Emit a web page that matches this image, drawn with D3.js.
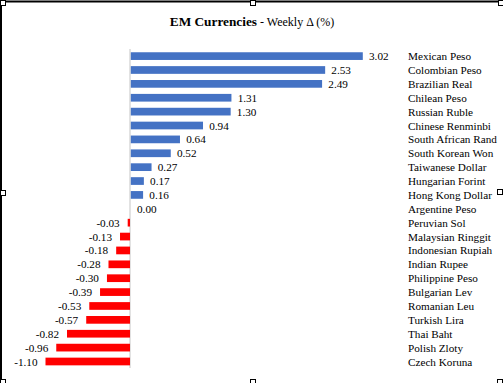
<!DOCTYPE html>
<html><head><meta charset="utf-8">
<script src="https://cdn.jsdelivr.net/npm/d3@7"></script>
<style>html,body{margin:0;padding:0;background:#fff;}svg{display:block;}</style>
</head><body>
<script>
const categories = ["Mexican Peso","Colombian Peso","Brazilian Real","Chilean Peso","Russian Ruble","Chinese Renminbi","South African Rand","South Korean Won","Taiwanese Dollar","Hungarian Forint","Hong Kong Dollar","Argentine Peso","Peruvian Sol","Malaysian Ringgit","Indonesian Rupiah","Indian Rupee","Philippine Peso","Bulgarian Lev","Romanian Leu","Turkish Lira","Thai Baht","Polish Zloty","Czech Koruna"];
const values = [3.02,2.53,2.49,1.31,1.30,0.94,0.64,0.52,0.27,0.17,0.16,0.00,-0.03,-0.13,-0.18,-0.28,-0.30,-0.39,-0.53,-0.57,-0.82,-0.96,-1.10];
const titleBold = "EM Currencies";
const titleRest = " - Weekly Δ (%)";

const W = 503, H = 383;
const svg = d3.select("body").append("svg").attr("width", W).attr("height", H);
const font = "'Liberation Serif','Times New Roman',serif";

const x = d3.scaleLinear().domain([-1.10, 3.02]).range([45.5, 362]);
const y = d3.scaleBand().domain(categories).range([49.2, 368.4]).paddingInner(0.445).paddingOuter(0.22);

// title
const t = svg.append("text").attr("x", 252).attr("y", 26).attr("text-anchor", "middle")
  .attr("font-family", font).attr("fill", "#000");
t.append("tspan").attr("font-weight", "bold").attr("font-size", "13.3px").text(titleBold);
t.append("tspan").attr("font-size", "12px").text(titleRest);

// zero line
svg.append("line").attr("x1", x(0)).attr("x2", x(0)).attr("y1", 49).attr("y2", 368)
  .attr("stroke", "#d9d9d9").attr("stroke-width", 1.5);

// bars
svg.append("g").selectAll("rect").data(values).join("rect")
  .attr("x", d => x(Math.min(0, d)) + (d >= 0 ? 0.8 : 0))
  .attr("width", d => Math.abs(x(d) - x(0)))
  .attr("y", (d, i) => y(categories[i]))
  .attr("height", y.bandwidth())
  .attr("fill", d => d >= 0 ? "#4472C4" : "#FF0000");

// value labels
svg.append("g").selectAll("text").data(values).join("text")
  .attr("x", d => d >= 0 ? x(d) + 7 : x(d) - 8)
  .attr("y", (d, i) => y(categories[i]) + y.bandwidth() / 2)
  .attr("dy", "0.36em")
  .attr("text-anchor", d => d >= 0 ? "start" : "end")
  .attr("font-family", font).attr("font-size", "11.2px").attr("fill", "#000")
  .text(d => d.toFixed(2));

// category labels
svg.append("g").selectAll("text").data(categories).join("text")
  .attr("x", 408)
  .attr("y", d => y(d) + y.bandwidth() / 2)
  .attr("dy", "0.36em")
  .attr("font-family", font).attr("font-size", "11.2px").attr("fill", "#000")
  .text(d => d);

// frame
svg.append("line").attr("x1", 0).attr("x2", 498).attr("y1", 1.5).attr("y2", 1.5).attr("stroke", "#000").attr("stroke-width", 2);
svg.append("line").attr("x1", 1).attr("x2", 1).attr("y1", 0).attr("y2", 383).attr("stroke", "#000").attr("stroke-width", 2);
const handles = [[0,0],[250,0],[498,0],[0,190],[497,189],[0,379],[250,379],[497,379]];
svg.append("g").selectAll("rect").data(handles).join("rect")
  .attr("x", d => d[0] + 0.5).attr("y", d => d[1] + 0.5).attr("width", 5).attr("height", 5)
  .attr("fill", "#fff").attr("stroke", "#000").attr("stroke-width", 1);
</script>
</body></html>
